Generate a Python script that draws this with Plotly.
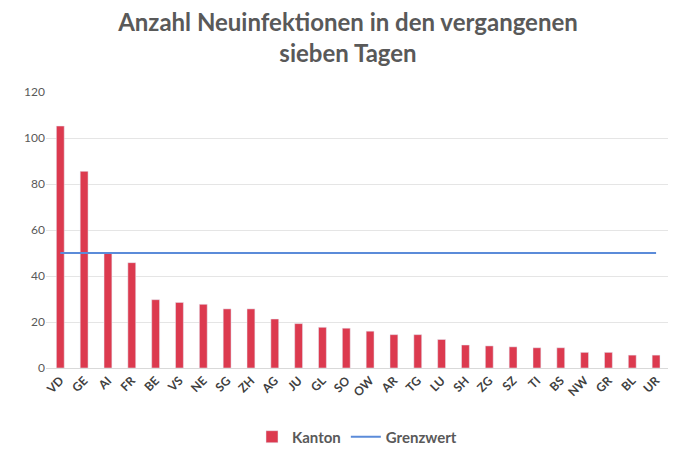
import plotly.graph_objects as go

kantone = ["VD","GE","AI","FR","BE","VS","NE","SG","ZH","AG","JU","GL","SO","OW","AR","TG","LU","SH","ZG","SZ","TI","BS","NW","GR","BL","UR"]
werte = [105.2,85.5,50,45.8,29.7,28.5,27.7,25.7,25.7,21.3,19.3,17.7,17.3,16,14.5,14.5,12.4,10,9.6,9.2,8.8,8.8,6.8,6.8,5.6,5.6]
grenzwert = [50]*len(kantone)

fig = go.Figure()
fig.add_bar(x=kantone, y=werte, name="<b>Kanton</b>", marker_color="#DC3A4F", width=0.33)
fig.add_scatter(x=kantone, y=grenzwert, name="<b>Grenzwert</b>", mode="lines",
                line=dict(color="#5B8BD9", width=2))
fig.update_layout(
    width=680, height=458, plot_bgcolor="white", paper_bgcolor="white",
    font=dict(family="Lato", color="#595959"),
    title=dict(text="<b>Anzahl Neuinfektionen in den vergangenen<br>sieben Tagen</b>",
               x=0.5, y=0.95, xanchor="center", font=dict(size=24, color="#595959")),
    margin=dict(l=38, r=20, t=84, b=75),
    bargap=0.5,
    legend=dict(orientation="h", x=0.5, xanchor="center", y=-0.19, yanchor="top",
                font=dict(size=15, color="#595959")),
    xaxis=dict(tickangle=-45, tickfont=dict(size=12, color="#404040", family="Lato"),
               showline=True, linecolor="#D9D9D9", range=[-0.6, 25.5], automargin=False),
    yaxis=dict(range=[0, 120], dtick=20, gridcolor="#E5E5E5", zeroline=False,
               tickfont=dict(size=12, color="#595959"), automargin=False),
)
fig.update_xaxes(tickprefix="<b>", ticksuffix="</b>")
fig.write_html("out.html")
